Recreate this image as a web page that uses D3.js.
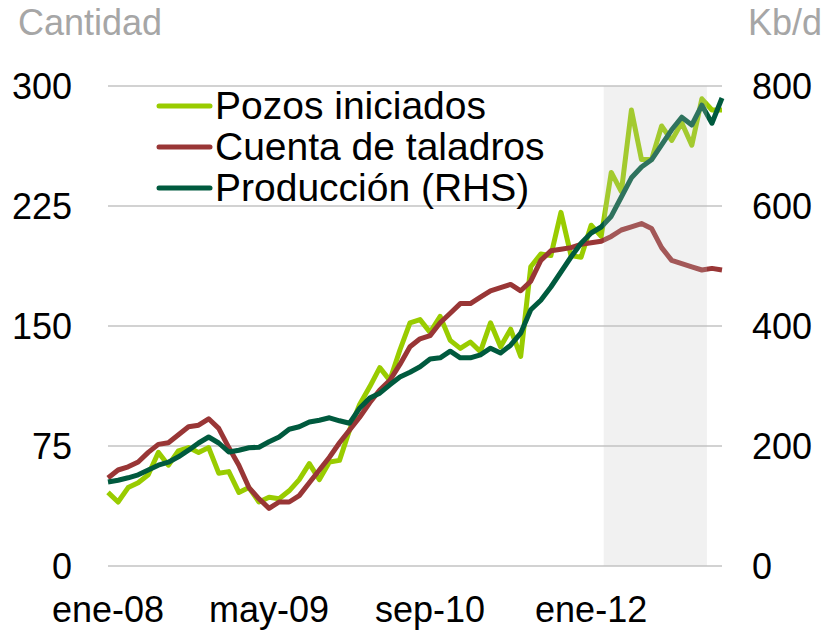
<!doctype html>
<html lang="es">
  <head>
    <meta charset="utf-8"/>
    <title>Pozos, taladros y producción</title>
    <script src="https://d3js.org/d3.v7.min.js"></script>
    <style>
      body { margin: 0; background: #fff; }
      svg text { font-family: "Liberation Sans", Arial, sans-serif; }
    </style>
  </head>
  <body>
    <div id="chart"></div>
    <script>
      // monthly data, ene-08 .. feb-13 (index 0 = ene-08)
      var pozos = [46, 40, 49, 52, 57, 71, 63, 72, 74, 71, 74, 58, 59, 46, 49, 40,
                   43, 42, 47, 54, 64, 54, 65, 66, 85, 101, 112, 124, 116, 135, 152, 154,
                   146, 156, 141, 136, 140, 134, 152, 137, 148, 131, 187, 195, 194, 221, 194, 193,
                   213, 206, 246, 234, 285, 254, 254, 275, 266, 277, 263, 292, 285, 285];
      var taladros = [55, 60, 62, 65, 71, 76, 77, 82, 87, 88, 92, 86, 74, 63, 49, 42,
                      36, 40, 40, 44, 52, 60, 68, 77, 85, 93, 102, 110, 116, 126, 137, 142,
                      144, 152, 158, 164, 164, 168, 172, 174, 176, 172, 178, 191, 197, 198, 199, 201,
                      202, 203, 206, 210, 212, 214, 211, 199, 191, 189, 187, 185, 186, 185];
      var produccion = [140, 143, 147, 152, 160, 168, 173, 182, 193, 205, 215, 205, 190, 193, 197, 198,
                        207, 215, 228, 232, 240, 243, 247, 242, 238, 263, 280, 288, 302, 315, 323, 332,
                        345, 347, 358, 347, 347, 352, 363, 355, 368, 388, 427, 443, 465, 490, 515, 538,
                        555, 565, 583, 615, 647, 665, 677, 702, 727, 748, 735, 768, 738, 780];

      var xTickIdx = [0, 16, 32, 48];
      var xTickLabels = ["ene-08", "may-09", "sep-10", "ene-12"];
      var leftTicks = [0, 75, 150, 225, 300];
      var rightTicks = [0, 200, 400, 600, 800];
      var shade = [49.25, 59.5];   // month index range of the grey band

      var names = ["Pozos iniciados", "Cuenta de taladros", "Producción (RHS)"];
      var colors = ["#99cc00", "#993636", "#005a3e"];

      var w = 827, h = 632;
      var plotLeft = 108, plotRight = 722, plotTop = 86, plotBottom = 566;

      var svg = d3.select("#chart").append("svg")
        .attr("width", w)
        .attr("height", h);

      var xScale = d3.scaleLinear().domain([0, pozos.length - 1]).range([plotLeft, plotRight]);
      var yLeft = d3.scaleLinear().domain([0, 300]).range([plotBottom, plotTop]);
      var yRight = d3.scaleLinear().domain([0, 800]).range([plotBottom, plotTop]);

      //gridlines
      svg.append("g")
        .selectAll("line")
        .data(leftTicks)
        .enter()
        .append("line")
        .attr("x1", plotLeft)
        .attr("x2", plotRight)
        .attr("y1", function(d) { return yLeft(d); })
        .attr("y2", function(d) { return yLeft(d); })
        .attr("stroke", "#d2d2d2")
        .attr("stroke-width", 2);

      //lines
      function drawLine(data, scale, color) {
        var line = d3.line()
          .x(function(d, i) { return xScale(i); })
          .y(function(d) { return scale(d); });
        svg.append("path")
          .datum(data)
          .attr("d", line)
          .attr("fill", "none")
          .attr("stroke", color)
          .attr("stroke-width", 5)
          .attr("stroke-linejoin", "round");
      }
      drawLine(pozos, yLeft, colors[0]);
      drawLine(taladros, yLeft, colors[1]);
      drawLine(produccion, yRight, colors[2]);

      //grey band over the lines
      svg.append("rect")
        .attr("x", xScale(shade[0]))
        .attr("y", plotTop)
        .attr("width", xScale(shade[1]) - xScale(shade[0]))
        .attr("height", plotBottom - plotTop)
        .attr("fill", "#c4c4c4")
        .attr("opacity", 0.24);

      //left ticks
      svg.append("g")
        .selectAll("text")
        .data(leftTicks)
        .enter()
        .append("text")
        .attr("x", 72)
        .attr("y", function(d) { return yLeft(d) + 13; })
        .attr("text-anchor", "end")
        .attr("font-size", "36px")
        .attr("fill", "#000")
        .text(function(d) { return d; });

      //right ticks
      svg.append("g")
        .selectAll("text")
        .data(rightTicks)
        .enter()
        .append("text")
        .attr("x", 752)
        .attr("y", function(d) { return yRight(d) + 13; })
        .attr("text-anchor", "start")
        .attr("font-size", "36px")
        .attr("fill", "#000")
        .text(function(d) { return d; });

      //x labels
      svg.append("g")
        .selectAll("text")
        .data(xTickIdx)
        .enter()
        .append("text")
        .attr("x", function(d) { return xScale(d); })
        .attr("y", 622)
        .attr("text-anchor", "middle")
        .attr("font-size", "36px")
        .attr("fill", "#000")
        .text(function(d, i) { return xTickLabels[i]; });

      //axis titles
      svg.append("text")
        .attr("x", 18)
        .attr("y", 35)
        .attr("font-size", "36px")
        .attr("fill", "#a6a6a6")
        .text("Cantidad");
      svg.append("text")
        .attr("x", 822)
        .attr("y", 35)
        .attr("text-anchor", "end")
        .attr("font-size", "36px")
        .attr("fill", "#a6a6a6")
        .text("Kb/d");

      //legend
      var legend = svg.append("g")
        .selectAll("g")
        .data(names)
        .enter()
        .append("g")
        .attr("transform", function(d, i) { return "translate(0," + (106 + i * 41) + ")"; });
      legend.append("line")
        .attr("x1", 159)
        .attr("x2", 210)
        .attr("stroke", function(d, i) { return colors[i]; })
        .attr("stroke-width", 5)
        .attr("stroke-linecap", "round");
      legend.append("text")
        .attr("x", 215)
        .attr("y", 13)
        .attr("font-size", "39px")
        .attr("fill", "#000")
        .text(function(d) { return d; });
    </script>
  </body>
</html>
